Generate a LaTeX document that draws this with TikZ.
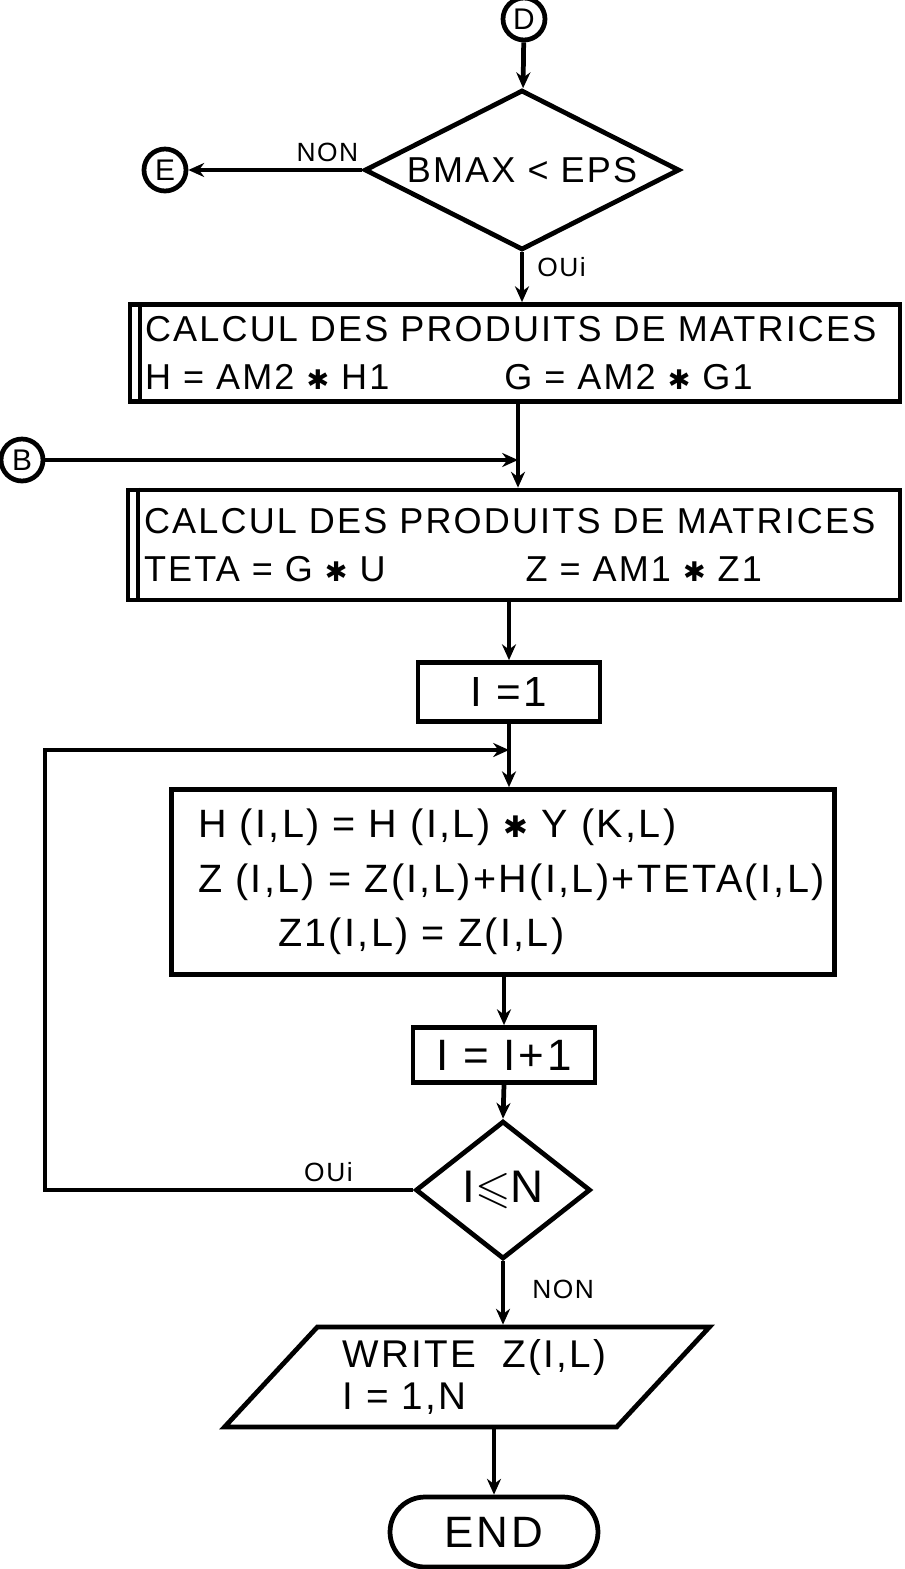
\documentclass[tikz,border=0pt]{standalone}
\usepackage{amssymb}
\usepackage{fontspec}
\setmainfont{Liberation Sans}[LetterSpace=6]
\newfontfamily\starfont{DejaVu Sans}
\newcommand{\mstar}{\scalebox{0.75}{\starfont ✱}}
\usetikzlibrary{arrows.meta,positioning,shapes.geometric,shapes.misc}

\begin{document}
\begin{tikzpicture}[
      x=0.02cm,y=-0.02cm,
      >={Stealth[length=9pt,width=8pt]},
      every path/.style={line width=2.7pt},
      conn/.style={circle,draw,minimum size=0.84cm,inner sep=0pt,font=\fontsize{17}{17}\selectfont},
      procbox/.style={rectangle,draw,inner ysep=0pt,inner xsep=0.3cm,align=left,font=\fontsize{20.5}{27}\selectfont},
      decision/.style={diamond,draw,inner sep=0pt,font=\fontsize{20.5}{20}\selectfont},
      iobox/.style={trapezium,trapezium left angle=39,trapezium right angle=141,trapezium stretches body,
        draw,inner sep=0pt,align=left,font=\fontsize{22}{24}\selectfont},
      endbox/.style={rounded rectangle,draw,inner sep=0pt,font=\fontsize{25}{25}\selectfont},
      lbl/.style={font=\fontsize{15}{15}\selectfont}
    ]
    \useasboundingbox (0,0) rectangle (904,1569);

    \node[conn] (D) at (524,19) {D};
    \node[decision,minimum width=6.3cm,minimum height=3.2cm] (test1) at (522,170) {\makebox[0pt]{BMAX < EPS}};
    \node[conn] (E) at (165,170) {E};

    \node[procbox,minimum width=15.4cm,minimum height=1.94cm,text width=14.8cm] (calc1) at (515,353)
      {CALCUL DES PRODUITS DE MATRICES\\
       H = AM2 \mstar\ H1\hspace*{2.3cm}G = AM2 \mstar\ G1};
    \draw ([xshift=7pt]calc1.north west) -- ([xshift=7pt]calc1.south west);

    \node[conn] (B) at (22,460) {B};
    \coordinate (bjoin) at (518,460);

    \node[procbox,minimum width=15.44cm,minimum height=2.2cm,text width=14.8cm] (calc2) at (514,545)
      {CALCUL DES PRODUITS DE MATRICES\\
       TETA = G \mstar\ U\hspace*{2.8cm}Z = AM1 \mstar\ Z1};
    \draw ([xshift=7pt]calc2.north west) -- ([xshift=7pt]calc2.south west);

    \node[procbox,minimum width=3.64cm,minimum height=1.18cm,align=center,
      font=\fontsize{24}{24}\selectfont] (init) at (509,692) {I =1};
    \coordinate (ljoin) at (509,750);
    \coordinate (lleft) at (45,750);

    \node[procbox,minimum width=13.26cm,minimum height=3.7cm,text width=12.2cm,inner xsep=0.53cm,
      font=\fontsize{22.5}{31}\selectfont] (body) at (503,882)
      {\mbox{H (I,L) = H (I,L) \mstar\ Y (K,L)}\\
       \mbox{Z (I,L) = Z(I,L)+H(I,L)+TETA(I,L)}\\
       \mbox{\hspace*{1.6cm}Z1(I,L) = Z(I,L)}};

    \node[procbox,minimum width=3.64cm,minimum height=1.1cm,align=center,
      font=\fontsize{25}{25}\selectfont] (incr) at (504,1055) {I = I+1};
    \node[decision,minimum width=3.5cm,minimum height=2.76cm,font=\fontsize{26}{26}\selectfont] (test2) at (503,1190) {I$\leqslant$N};

    \node[iobox,minimum width=9.7cm,minimum height=2cm] (out) at (467,1377)
      {\hspace*{0.3cm}WRITE\ \ Z(I,L)\\ \hspace*{0.3cm}I = 1,N};
    \node[endbox,minimum width=4.16cm,minimum height=1.4cm] (endn) at (494,1532) {END};

    % connectors
    \draw[->] (D) -- (test1);
    \draw[->] (test1.west) -- node[lbl,pos=0.2,above] {NON} (E);
    \draw[->] (test1.south) -- node[lbl,pos=0.3,right=4pt] {OUi} (test1.south |- calc1.north);
    \draw[->] (B) -- (bjoin);
    \draw[->] (bjoin |- calc1.south) -- (bjoin |- calc2.north);
    \draw[->] (init |- calc2.south) -- (init.north);
    \draw[->] (init.south) -- (init |- body.north);
    \draw[->] (test2.west) -- node[lbl,pos=0.23,above] {OUi} (lleft |- test2.west) -- (lleft) -- (ljoin);
    \draw[->] (incr |- body.south) -- (incr.north);
    \draw[->] (incr.south) -- (test2.north);
    \draw[->] (test2.south) -- node[lbl,pos=0.45,right=12pt] {NON} (test2.south |- out.north);
    \draw[->] (endn |- out.south) -- (endn.north);
  \end{tikzpicture}
\end{document}
